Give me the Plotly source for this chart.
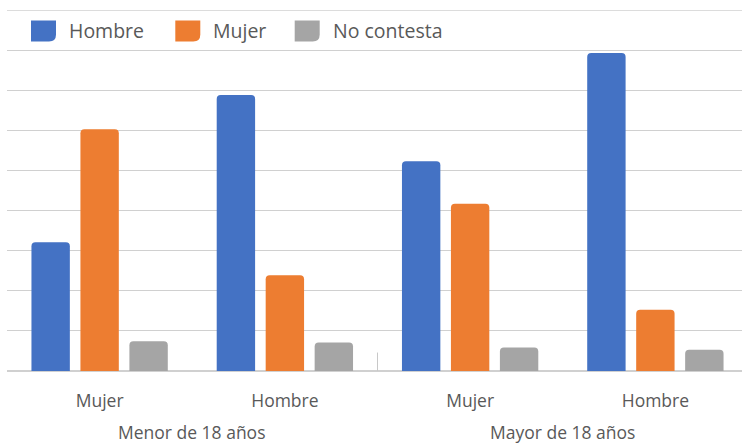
import plotly.graph_objects as go

# ---- data ----
categories = ["Mujer", "Hombre", "Mujer", "Hombre"]
groups = ["Menor de 18 años", "Mayor de 18 años"]
series_names = ["Hombre", "Mujer", "No contesta"]
hombre = [3.21, 6.88, 5.23, 7.93]
mujer = [6.03, 2.39, 4.17, 1.53]
no_contesta = [0.74, 0.71, 0.585, 0.53]

colors = ["#4472C4", "#ED7D31", "#A5A5A5"]
text_color = "#595959"
grid_color = "#D0D0D0"
FONT = "Open Sans, Lato, sans-serif"

W, H = 742, 446
ML, MR, MT, MB = 7, 0, 10, 74.5
Y_MAX = 9

xpos = list(range(len(categories)))

fig = go.Figure()
for name, vals, col in zip(series_names, [hombre, mujer, no_contesta], colors):
    fig.add_trace(go.Bar(x=xpos, y=vals, name=name, marker=dict(color=col, cornerradius=4, line=dict(width=0)),
                         showlegend=False, hoverinfo="skip"))

fig.update_layout(
    width=W, height=H,
    margin=dict(l=ML, r=MR, t=MT, b=MB, pad=0, autoexpand=False),
    paper_bgcolor="white", plot_bgcolor="white",
    barmode="group", bargap=0.207, bargroupgap=0.216,
    font=dict(family=FONT, color=text_color, size=17),
    xaxis=dict(
        range=[-0.5, 3.4676], tickmode="array", tickvals=xpos, ticktext=categories,
        showgrid=False, zeroline=False, showline=False, automargin=False,
        ticks="outside", ticklen=14, tickcolor="rgba(0,0,0,0)",
        tickfont=dict(size=17.5, color=text_color, family=FONT),
    ),
    yaxis=dict(
        range=[0, Y_MAX], dtick=1, showticklabels=False, showgrid=True, gridcolor=grid_color, gridwidth=1,
        zeroline=True, zerolinecolor=grid_color, zerolinewidth=1.5, showline=False, ticks="", automargin=False,
    ),
)

# top gridline (at the edge of the plot area)
fig.add_shape(type="line", xref="paper", yref="y", x0=0, x1=1, y0=Y_MAX, y1=Y_MAX,
              line=dict(color=grid_color, width=1.5), layer="below")

# group (second level) labels
for i, g in enumerate(groups):
    fig.add_annotation(x=2 * i + 0.5, xref="x", y=-0.168, yref="paper", text=g, showarrow=False,
                       xanchor="center", yanchor="middle", font=dict(size=17.5, color=text_color, family=FONT))

# divider between the two groups
fig.add_shape(type="line", xref="x", yref="y", x0=1.5, x1=1.5, y0=0, y1=0.46,
              line=dict(color="#C8C8C8", width=1))

# custom legend (squares with rounded bottom-right corner)
plot_w = W - ML - MR
plot_h = H - MT - MB
leg_box_x = [31, 175.3, 294.7]
leg_text_x = [69.3, 213.3, 332.7]
leg_cy = 31
bw, bh, r = 25, 21, 7
for bx, tx, name, col in zip(leg_box_x, leg_text_x, series_names, colors):
    ax = (bx - ML) / plot_w
    ay = (H - MB - leg_cy) / plot_h
    path = (f"M0,{bh/2} L{bw},{bh/2} L{bw},{-bh/2 + r} Q{bw},{-bh/2} {bw - r},{-bh/2} "
            f"L0,{-bh/2} Z")
    fig.add_shape(type="path", xref="paper", yref="paper", xsizemode="pixel", ysizemode="pixel",
                  xanchor=ax, yanchor=ay, path=path, fillcolor=col, line=dict(width=0))
    fig.add_annotation(x=(tx - ML) / plot_w, xref="paper", y=ay, yref="paper", text=name, showarrow=False,
                       xanchor="left", yanchor="middle", xshift=-2,
                       font=dict(size=19.5, color=text_color, family=FONT))

fig.write_html("out.html", config={"displayModeBar": False},
               post_script="document.body.style.margin='0';document.body.style.overflow='hidden';")
